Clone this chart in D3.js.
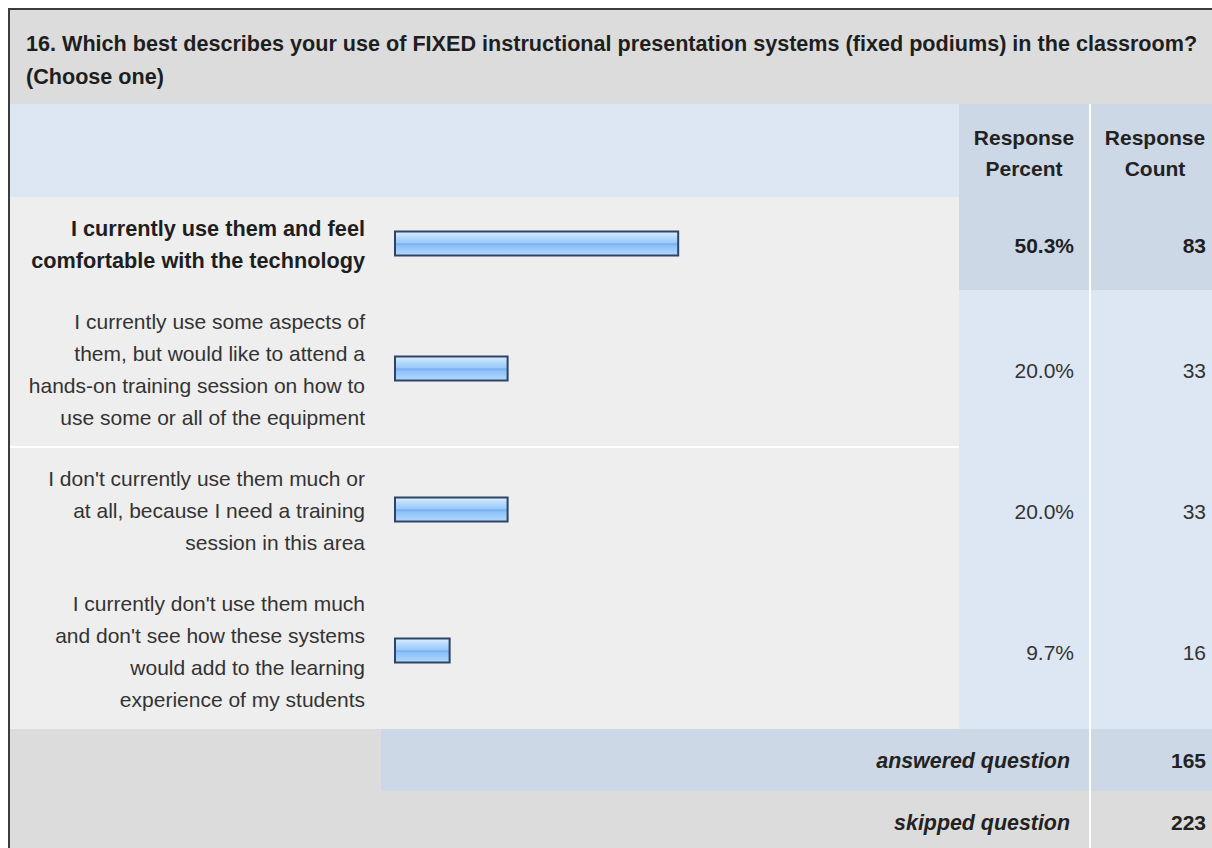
<!DOCTYPE html>
<html>
<head>
<meta charset="utf-8">
<script src="https://cdn.jsdelivr.net/npm/d3@7"></script>
<style>
  body { margin: 0; background: #fff; }
  svg text { font-family: "Liberation Sans", Arial, sans-serif; }
</style>
</head>
<body>
<svg id="chart" width="1212" height="848"></svg>
<script>

var titleLines = [
	"16. Which best describes your use of FIXED instructional presentation systems (fixed podiums) in the classroom?",
	"(Choose one)"
];
var choices = [
	["I currently use them and feel", "comfortable with the technology"],
	["I currently use some aspects of", "them, but would like to attend a", "hands-on training session on how to", "use some or all of the equipment"],
	["I don't currently use them much or", "at all, because I need a training", "session in this area"],
	["I currently don't use them much", "and don't see how these systems", "would add to the learning", "experience of my students"]
];
var percents = [50.3, 20.0, 20.0, 9.7];
var counts = [83, 33, 33, 16];
var headerPercent = ["Response", "Percent"];
var headerCount = ["Response", "Count"];
var footerLabels = ["answered question", "skipped question"];
var footerCounts = [165, 223];

var svg = d3.select("#chart");

var left = 10,
    titleBottom = 104,
    headerBottom = 197,
    pctX0 = 959, pctX1 = 1089,
    cntX0 = 1091, cntX1 = 1219,
    labelRight = 365,
    lineH = 32,
    rowPad = 29,
    footH = 62,
    fs = 21;

var x = d3.scaleLinear()
	.domain([0, 100])
	.range([395, 958]);

// row positions from number of label lines
var rows = [];
var yPos = headerBottom;
choices.forEach(function(lines, i) {
	var h = lines.length * lineH + rowPad;
	rows.push({lines: lines, y: yPos, h: h, c: yPos + h / 2, pct: percents[i], cnt: counts[i]});
	yPos += h;
});
var footTop = yPos;
var maxPct = d3.max(percents);

// gradient for the bars
var defs = svg.append("defs");
var grad = defs.append("linearGradient")
	.attr("id", "barGrad")
	.attr("x1", 0).attr("y1", 0).attr("x2", 0).attr("y2", 1);
[["0%", "#dbeeff"], ["25%", "#b3d9fd"], ["46%", "#9ccafa"], ["52%", "#77adef"], ["60%", "#8cc1f8"], ["100%", "#b4dafe"]]
	.forEach(function(s) { grad.append("stop").attr("offset", s[0]).attr("stop-color", s[1]); });

// title band
svg.append("rect")
	.attr("x", left).attr("y", left)
	.attr("width", 1212).attr("height", titleBottom - left)
	.attr("fill", "#dcdcdc");

svg.selectAll(".title")
	.data(titleLines)
	.enter().append("text")
	.attr("class", "title")
	.attr("x", 26)
	.attr("y", function(d, i) { return 51 + i * 33; })
	.attr("font-size", "21.6px")
	.attr("font-weight", "bold")
	.attr("fill", "#1e1e1e")
	.text(function(d) { return d; });

// header band
svg.append("rect")
	.attr("x", left).attr("y", titleBottom)
	.attr("width", 1212).attr("height", headerBottom - titleBottom)
	.attr("fill", "#dde7f3");

svg.append("rect")
	.attr("x", pctX0).attr("y", titleBottom)
	.attr("width", cntX1 - pctX0).attr("height", headerBottom - titleBottom)
	.attr("fill", "#cdd8e6");

[[headerPercent, (pctX0 + pctX1) / 2], [headerCount, (cntX0 + cntX1) / 2]].forEach(function(hd) {
	svg.selectAll(null)
		.data(hd[0])
		.enter().append("text")
		.attr("x", hd[1])
		.attr("y", function(d, i) { return (titleBottom + headerBottom) / 2 - 5.5 + i * 31; })
		.attr("text-anchor", "middle")
		.attr("font-size", fs + "px")
		.attr("font-weight", "bold")
		.attr("fill", "#222")
		.text(function(d) { return d; });
});

// choice rows
var row = svg.selectAll(".row")
	.data(rows)
	.enter().append("g")
	.attr("class", "row");

row.append("rect")
	.attr("x", left)
	.attr("y", function(d) { return d.y; })
	.attr("width", pctX0 - left)
	.attr("height", function(d) { return d.h; })
	.attr("fill", "#eeeeee");

row.append("rect")
	.attr("x", pctX0)
	.attr("y", function(d) { return d.y; })
	.attr("width", cntX1 - pctX0)
	.attr("height", function(d) { return d.h; })
	.attr("fill", function(d) { return d.pct === maxPct ? "#cdd8e6" : "#dde7f3"; });

row.each(function(d) {
	var g = d3.select(this);
	var bold = d.pct === maxPct;
	g.selectAll("text.lbl")
		.data(d.lines)
		.enter().append("text")
		.attr("class", "lbl")
		.attr("x", labelRight)
		.attr("y", function(t, i) { return d.c - (d.lines.length - 1) * lineH / 2 + i * lineH + 8; })
		.attr("text-anchor", "end")
		.attr("font-size", bold ? "21.7px" : fs + "px")
		.attr("font-weight", bold ? "bold" : "normal")
		.attr("fill", bold ? "#1e1e1e" : "#333")
		.text(function(t) { return t; });

	g.append("text")
		.attr("x", pctX1 - 15)
		.attr("y", d.c + 9)
		.attr("text-anchor", "end")
		.attr("font-size", fs + "px")
		.attr("font-weight", bold ? "bold" : "normal")
		.attr("fill", bold ? "#1e1e1e" : "#333")
		.text(d.pct.toFixed(1) + "%");

	g.append("text")
		.attr("x", cntX1 - 13)
		.attr("y", d.c + 9)
		.attr("text-anchor", "end")
		.attr("font-size", fs + "px")
		.attr("font-weight", bold ? "bold" : "normal")
		.attr("fill", bold ? "#1e1e1e" : "#333")
		.text(d.cnt);
});

row.append("rect")
	.attr("x", x(0))
	.attr("y", function(d) { return d.c - 12; })
	.attr("width", function(d) { return x(d.pct) - x(0); })
	.attr("height", 24)
	.attr("fill", "url(#barGrad)")
	.attr("stroke", "#2f4465")
	.attr("stroke-width", 2);

// white rule between 2nd and 3rd choice
svg.append("rect")
	.attr("x", left).attr("y", rows[2].y - 1)
	.attr("width", pctX0 - left).attr("height", 2)
	.attr("fill", "#fff");

// footer rows
svg.append("rect")
	.attr("x", left).attr("y", footTop)
	.attr("width", 1212).attr("height", footH * 2)
	.attr("fill", "#dcdcdc");

svg.append("rect")
	.attr("x", 381).attr("y", footTop)
	.attr("width", cntX1 - 381).attr("height", footH)
	.attr("fill", "#cdd8e6");

footerLabels.forEach(function(lbl, i) {
	var cy = footTop + footH * i + footH / 2;
	svg.append("text")
		.attr("x", pctX1 - 19)
		.attr("y", cy + 8)
		.attr("text-anchor", "end")
		.attr("font-size", "21.4px")
		.attr("font-weight", "bold")
		.attr("font-style", "italic")
		.attr("fill", "#222")
		.text(lbl);
	svg.append("text")
		.attr("x", cntX1 - 13)
		.attr("y", cy + 8)
		.attr("text-anchor", "end")
		.attr("font-size", fs + "px")
		.attr("font-weight", "bold")
		.attr("fill", "#222")
		.text(footerCounts[i]);
});

// white column rule
svg.append("rect")
	.attr("x", pctX1).attr("y", titleBottom)
	.attr("width", cntX0 - pctX1).attr("height", 848)
	.attr("fill", "#fff");

// outer frame
svg.append("rect")
	.attr("x", 9).attr("y", 9)
	.attr("width", 1250).attr("height", 900)
	.attr("fill", "none")
	.attr("stroke", "#3c3c3c")
	.attr("stroke-width", 2);

</script>
</body>
</html>
